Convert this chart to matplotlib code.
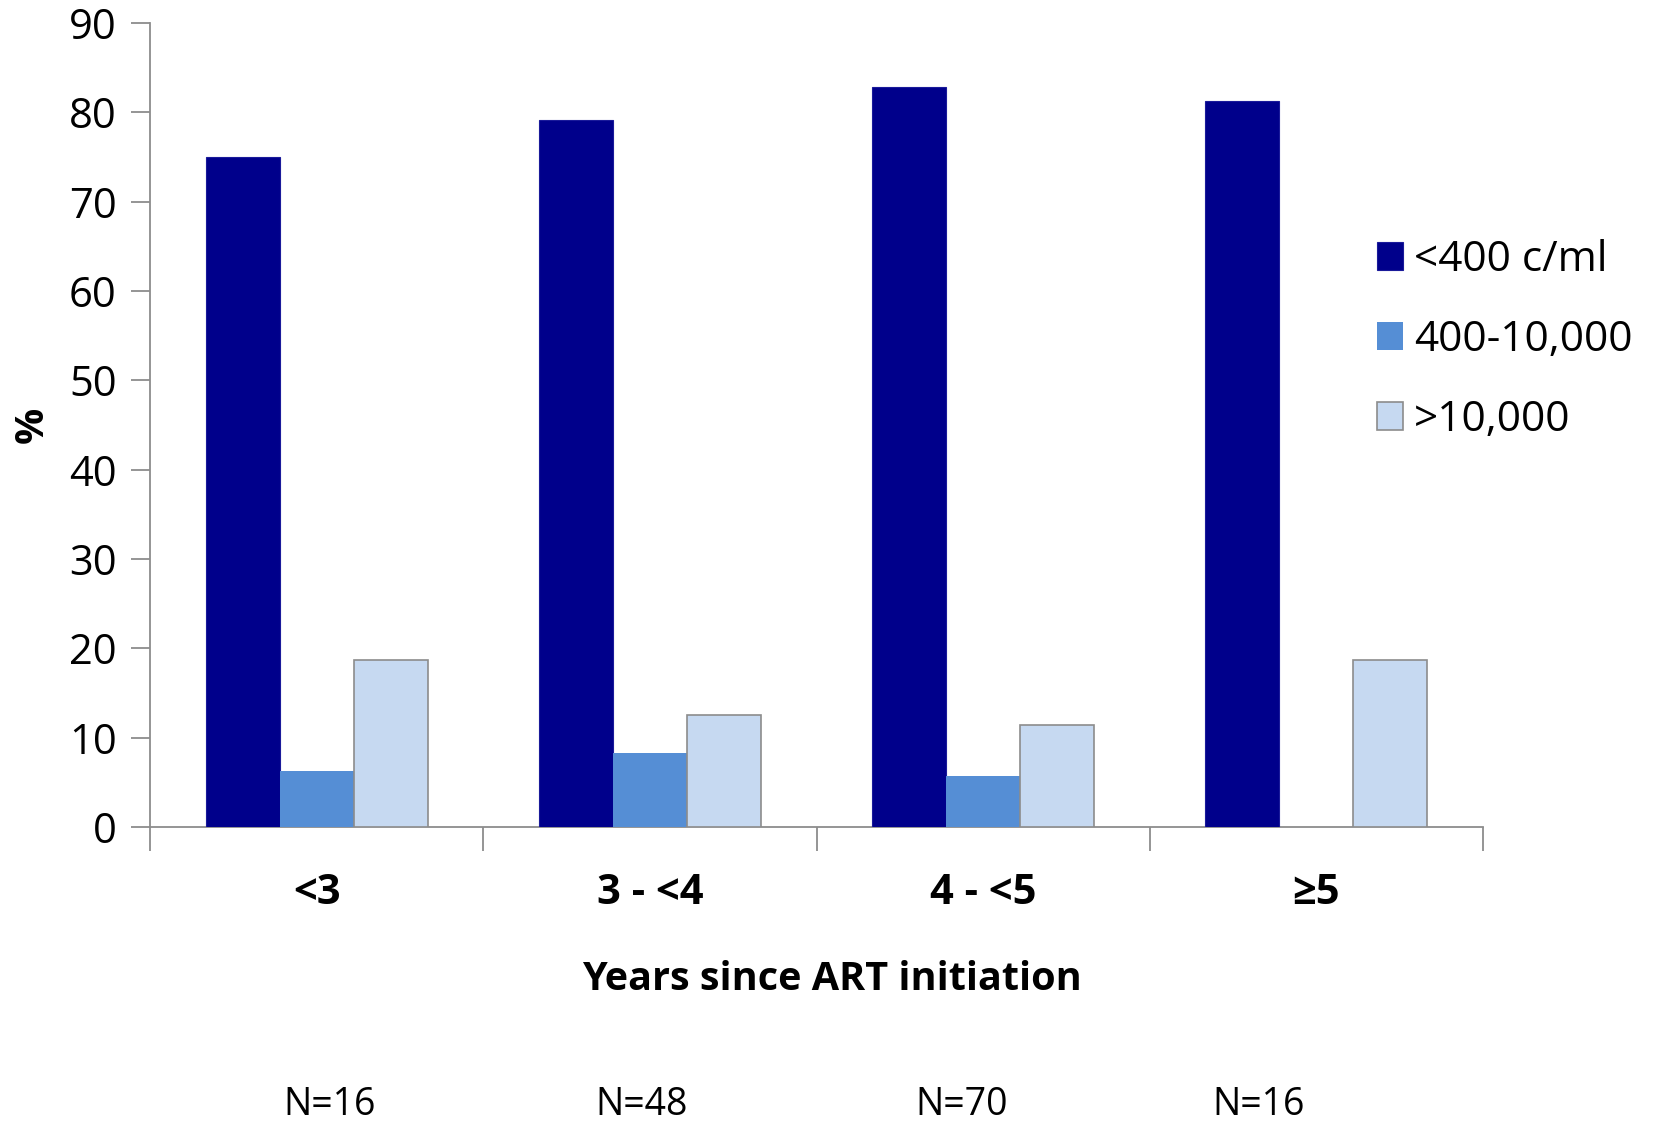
import numpy as np
import matplotlib
matplotlib.use('Agg')
import matplotlib.pyplot as plt

plt.rcParams['font.family'] = ['Open Sans', 'DejaVu Sans']

DARK  = '#00008B'
MID   = '#558ED5'
LIGHT = '#C6D9F1'
AXIS  = '#8C8C8C'

categories = ['<3', '3 - <4', '4 - <5', '≥5']
n_labels   = ['N=16', 'N=48', 'N=70', 'N=16']
series     = ['<400 c/ml', '400-10,000', '>10,000']
below_400  = [75.0, 79.17, 82.86, 81.25]
mid_range  = [6.25, 8.33, 5.71, 0.0]
above_10k  = [18.75, 12.5, 11.43, 18.75]

fig = plt.figure(figsize=(16.55, 11.28), dpi=100)
fig.patch.set_facecolor('white')
ax = fig.add_axes([150/1655, 1 - 827/1128, (1483 - 150)/1655, (827 - 23)/1128])

x = np.arange(len(categories)) + 0.5
w = 0.222
ax.bar(x - w, below_400, w, color=DARK, edgecolor='#1A1A9A', linewidth=0.8, label=series[0], zorder=3)
ax.bar(x,     mid_range, w, color=MID, edgecolor='none', label=series[1], zorder=3)
ax.bar(x + w, above_10k, w, color=LIGHT, edgecolor=AXIS, linewidth=1.2, label=series[2], zorder=3)

ax.set_xlim(0, len(categories))
ax.set_ylim(0, 90)
ax.set_yticks(range(0, 91, 10))
ax.tick_params(axis='y', labelsize=30, length=14, width=1.3, color=AXIS, pad=10)

# category boundaries as major ticks, names centred as minor ticks
ax.set_xticks(range(len(categories) + 1))
ax.set_xticklabels([''] * (len(categories) + 1))
ax.tick_params(axis='x', which='major', length=17, width=1.3, color=AXIS)
ax.set_xticks(x, minor=True)
ax.set_xticklabels(categories, minor=True, fontsize=30, fontweight='bold')
ax.tick_params(axis='x', which='minor', length=0, pad=33)

for side in ['top', 'right']:
    ax.spines[side].set_visible(False)
for side in ['left', 'bottom']:
    ax.spines[side].set_color(AXIS)
    ax.spines[side].set_linewidth(1.3)

ax.set_ylabel('%', fontsize=29, fontweight='bold', labelpad=12)
fig.text(832/1655, 1 - 979/1128, 'Years since ART initiation', fontsize=28.5,
         fontweight='bold', ha='center', va='center')

# sample sizes under each group, kept inside the bottom edge
n_xpos = [330, 642, 962, 1259]
for xp, lab in zip(n_xpos, n_labels):
    fig.text(xp/1655, 1 - 1124/1128, lab, fontsize=27, ha='center', va='bottom')

ax.legend(loc='center left', bbox_to_anchor=(1360/1655, 1 - 340/1128),
          bbox_transform=fig.transFigure, frameon=False, fontsize=30.5,
          handlelength=0.62, handleheight=0.62, handletextpad=0.25,
          labelspacing=0.9, borderaxespad=0)

fig.savefig('out.png', dpi=100, facecolor='white')
